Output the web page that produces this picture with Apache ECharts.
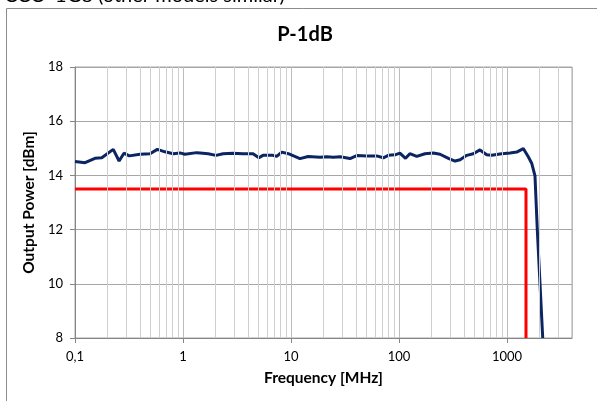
<!DOCTYPE html>
<html>
<head>
<meta charset="utf-8">
<script src="https://cdn.jsdelivr.net/npm/echarts@6/dist/echarts.min.js"></script>
<style>
  html, body { margin: 0; padding: 0; background: #fff; }
  #chart { width: 597px; height: 401px; }
</style>
</head>
<body>
<div id="chart"></div>
<script>
// measured curve: frequency [MHz] and P-1dB [dBm]
const freqs = [0.1, 0.124, 0.153, 0.177, 0.226, 0.256, 0.284, 0.318, 0.4, 0.495, 0.578, 0.681, 0.813, 0.938,
  1.04, 1.34, 1.44, 1.71, 2.02, 2.35, 2.9, 3.59, 4.45, 5.05, 5.5, 6.81, 7.37, 8.21, 9.45,
  12.1, 14.4, 18.6, 21.4, 24.7, 28.5, 35.2, 40.6, 50.2, 62.2, 71.6, 79.7, 91.9,
  102, 115, 126, 146, 174, 208, 240, 287, 330, 368, 424, 488, 562, 649, 721, 893,
  1067, 1231, 1416, 1575, 1693, 1817, 1909, 2143];
const power = [14.51, 14.47, 14.63, 14.65, 14.96, 14.53, 14.82, 14.72, 14.78, 14.8, 14.96, 14.87, 14.8, 14.83,
  14.78, 14.84, 14.83, 14.8, 14.74, 14.8, 14.82, 14.8, 14.8, 14.65, 14.74, 14.74, 14.7, 14.86, 14.8,
  14.62, 14.7, 14.67, 14.69, 14.67, 14.69, 14.62, 14.73, 14.72, 14.72, 14.65, 14.74, 14.76,
  14.82, 14.63, 14.8, 14.7, 14.8, 14.83, 14.78, 14.63, 14.53, 14.58, 14.74, 14.8, 14.94, 14.76, 14.74, 14.8,
  14.83, 14.86, 14.99, 14.69, 14.45, 13.98, 11.99, 8.0];

// spec limit line
const limitFreq = [0.1, 1500, 1500];
const limitPower = [13.5, 13.5, 8];

const majorTicks = [0.1, 1, 10, 100, 1000];
const minorTicks = [0.2, 0.3, 0.4, 0.5, 0.6, 0.7, 0.8, 0.9, 2, 3, 4, 5, 6, 7, 8, 9,
  20, 30, 40, 50, 60, 70, 80, 90, 200, 300, 400, 500, 600, 700, 800, 900, 2000, 3000];
const yTicks = [8, 10, 12, 14, 16, 18];

const font = 'Lato';

const chart = echarts.init(document.getElementById('chart'));
chart.setOption({
  animation: false,
  textStyle: { fontFamily: font },
  graphic: [
    {
      type: 'rect',
      shape: { x: 6.5, y: 8.5, width: 700, height: 500 },
      style: { fill: 'none', stroke: '#8c8c8c', lineWidth: 1 },
      silent: true
    },
    {
      type: 'text',
      left: 4,
      top: -14,
      style: { text: 'CCC+1G8 (other models similar)', fontFamily: font, fontSize: 20, fill: '#000' },
      silent: true
    },
    {
      type: 'text',
      x: 305,
      y: 35,
      style: {
        text: 'P-1dB', fontFamily: font, fontSize: 20, fontWeight: 'bold', fill: '#000',
        align: 'center', verticalAlign: 'middle'
      },
      silent: true
    }
  ],
  grid: { left: 75, right: 25, top: 67, bottom: 63, show: true, borderColor: '#a6a6a6', borderWidth: 1 },
  xAxis: {
    type: 'log',
    logBase: 10,
    min: 0.1,
    max: 4000,
    name: 'Frequency [MHz]',
    nameLocation: 'middle',
    nameGap: 32,
    nameTextStyle: { fontFamily: font, fontSize: 15.5, fontWeight: 'bold', color: '#000' },
    axisLine: { lineStyle: { color: '#868686' } },
    axisTick: { show: true, length: 5, lineStyle: { color: '#868686' } },
    axisLabel: {
      color: '#000', fontSize: 13, margin: 12, showMaxLabel: false,
      formatter: v => {
        const m = majorTicks.find(t => Math.abs(t - v) / t < 1e-6);
        if (m === undefined) return '';
        return String(m).replace('.', ',');
      }
    },
    splitLine: { show: true, lineStyle: { color: '#bcbcbc' } }
  },
  yAxis: {
    type: 'value',
    min: yTicks[0],
    max: yTicks[yTicks.length - 1],
    interval: 2,
    name: 'Output Power [dBm]',
    nameLocation: 'middle',
    nameGap: 32,
    nameTextStyle: { fontFamily: font, fontSize: 15.5, fontWeight: 'bold', color: '#000' },
    axisLine: { show: true, lineStyle: { color: '#868686' } },
    axisTick: { show: true, length: 5, lineStyle: { color: '#868686' } },
    axisLabel: { color: '#000', fontSize: 13, margin: 12 },
    splitLine: { lineStyle: { color: '#a6a6a6' } }
  },
  series: [
    {
      type: 'line',
      data: [],
      z: 1,
      silent: true,
      markLine: {
        silent: true,
        symbol: 'none',
        label: { show: false },
        lineStyle: { color: '#cfcfcf', width: 1, type: 'solid' },
        data: minorTicks.map(v => ({ xAxis: v }))
      }
    },
    {
      type: 'line',
      data: limitFreq.map((f, i) => [f, limitPower[i]]),
      symbol: 'none',
      z: 3,
      lineStyle: { color: '#ff0000', width: 3 }
    },
    {
      type: 'line',
      data: freqs.map((f, i) => [f, power[i]]),
      symbol: 'none',
      z: 4,
      clip: true,
      lineStyle: { color: '#0b2563', width: 3 }
    }
  ]
});
</script>
</body>
</html>
